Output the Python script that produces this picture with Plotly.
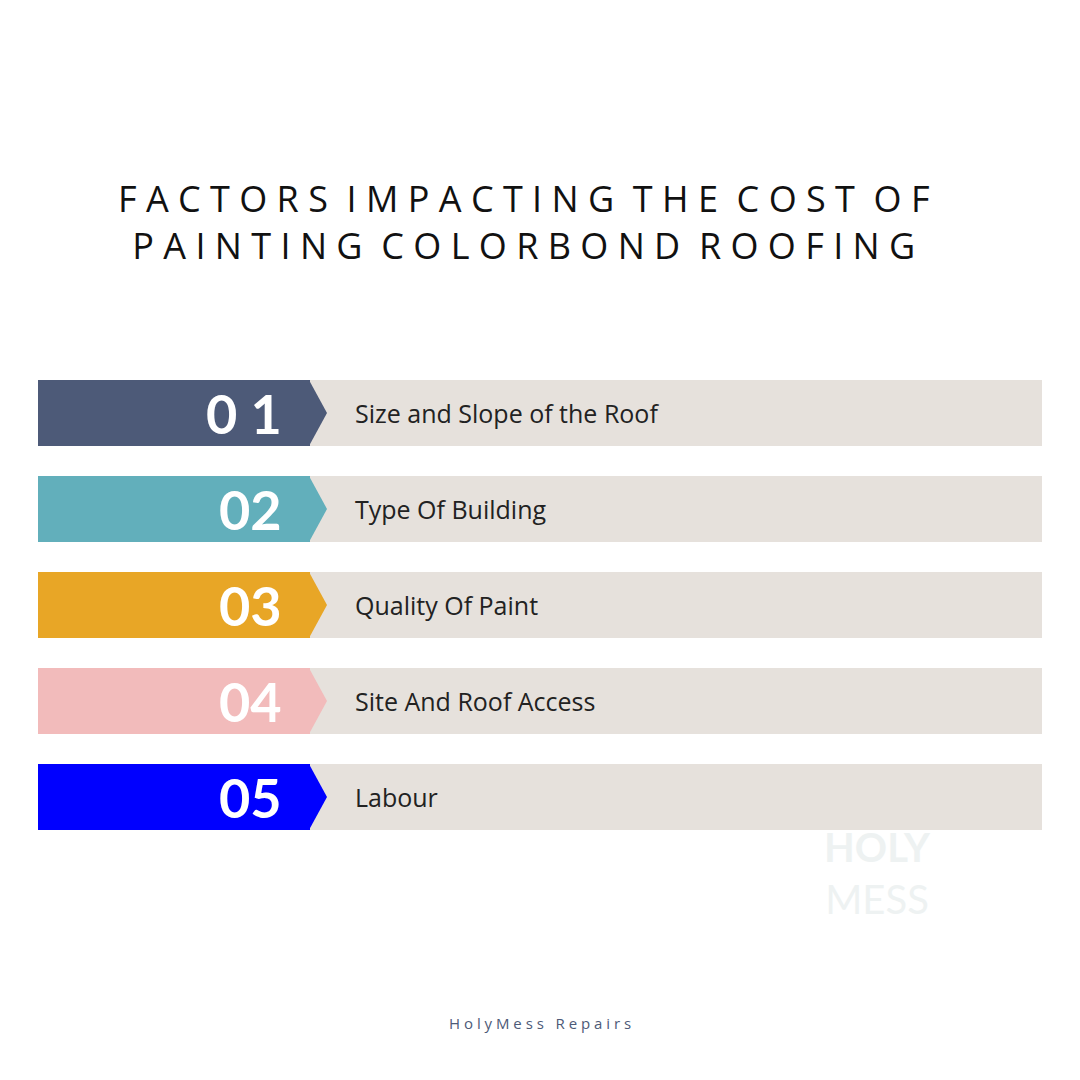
import plotly.graph_objects as go

numbers = ["01", "02", "03", "04", "05"]
labels = ["Size and Slope of the Roof", "Type Of Building", "Quality Of Paint",
          "Site And Roof Access", "Labour"]
colors = ["#4d5a78", "#62afbb", "#e8a626", "#f2bbbb", "#0000ff"]
rows = list(range(len(numbers)))

W = 1080
OFF = 8  # page body margin
ROW0, STEP = 413, 96
BAR_H = 0.69
X0, XMID, XTIP, X1 = 38, 310, 327, 1042


def spaced(s):
    return "  ".join(" ".join(w) for w in s.split(" "))


fig = go.Figure()
fig.add_trace(go.Bar(y=rows, x=[X1 - XMID] * len(rows), base=XMID, orientation="h",
                     width=BAR_H, marker=dict(color="#e6e1dc", line_width=0),
                     hoverinfo="skip"))
fig.add_trace(go.Bar(y=rows, x=[XMID - X0] * len(rows), base=X0, orientation="h",
                     width=BAR_H, marker=dict(color=colors, line_width=0),
                     hoverinfo="skip"))
for i, c in zip(rows, colors):
    fig.add_trace(go.Scatter(x=[XMID - 1, XTIP, XMID - 1], y=[i - BAR_H / 2, i, i + BAR_H / 2],
                             fill="toself", fillcolor=c, mode="none", hoverinfo="skip"))

for i, n, t in zip(rows, numbers, labels):
    fig.add_annotation(x=284, y=i, text=f"<b>{n[0]} {n[1]}</b>" if n == "01" else f"<b>{n}</b>",
                       xanchor="right", showarrow=False,
                       font=dict(family="Lato", size=54, color="white"))
    fig.add_annotation(x=353, y=i, text=t, xanchor="left", showarrow=False,
                       font=dict(family="Open Sans", size=25, color="#222"))


def px(p):
    return (p - OFF) / W


def py(p):
    return 1 - (p - OFF) / W


fig.add_annotation(x=px(524), y=py(222), xref="paper", yref="paper", showarrow=False,
                   xanchor="center", yanchor="middle",
                   text=spaced("FACTORS IMPACTING THE COST OF") + "<br>"
                        + spaced("PAINTING COLORBOND ROOFING"),
                   font=dict(family="Open Sans", size=36, color="#111"), align="center")
fig.add_annotation(x=px(540), y=py(1023), xref="paper", yref="paper", showarrow=False,
                   xanchor="center", yanchor="middle",
                   text="H o l y M e s s   R e p a i r s",
                   font=dict(family="Open Sans", size=15, color="#4d5a78"))
fig.add_annotation(x=px(877), y=py(873), xref="paper", yref="paper", showarrow=False,
                   xanchor="center", yanchor="middle",
                   text="<b>HOLY</b><br>MESS", align="center",
                   font=dict(family="Lato", size=40, color="#eef2f2"))

y_top = -(ROW0 - OFF) / STEP
y_bot = (W - ROW0 + OFF) / STEP
fig.update_layout(width=W, height=W, margin=dict(l=0, r=0, t=0, b=0),
                  paper_bgcolor="white", plot_bgcolor="white", showlegend=False,
                  barmode="overlay", bargap=0)
fig.update_xaxes(range=[OFF, W + OFF], visible=False)
fig.update_yaxes(range=[y_bot, y_top], visible=False)
fig.write_html("out.html")
